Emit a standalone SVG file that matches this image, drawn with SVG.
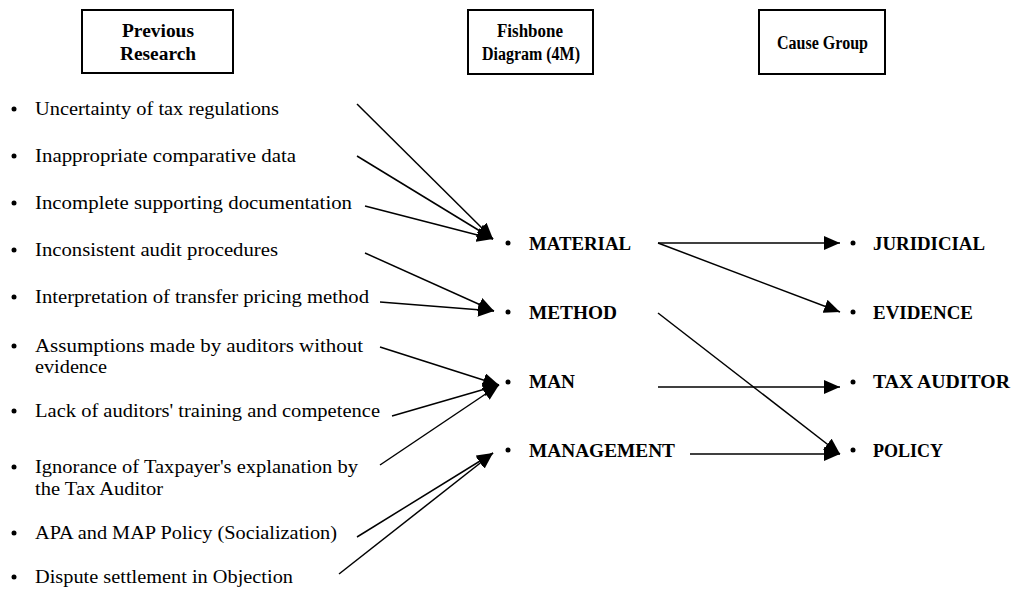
<svg xmlns="http://www.w3.org/2000/svg" width="1011" height="592" viewBox="0 0 1011 592">
<style>
.box{fill:#fff;stroke:#000;stroke-width:2}
.hd{font-family:"Liberation Serif","Times New Roman",serif;font-size:18px;font-weight:bold;fill:#000}
.t{font-family:"Liberation Serif","Times New Roman",serif;font-size:18px;fill:#000}
.b{font-family:"Liberation Serif","Times New Roman",serif;font-size:18px;font-weight:bold;fill:#000}
.c{stroke:#000;stroke-width:1.5;fill:none;marker-end:url(#ah)}
</style>
<defs>
<marker id="ah" markerUnits="userSpaceOnUse" markerWidth="16" markerHeight="14" refX="16" refY="7" orient="auto">
<path d="M0,0 L16,7 L0,14 z" fill="#000"/>
</marker>
</defs>
<rect width="1011" height="592" fill="#fff"/>
<g id="box-previous-research">
<rect class="box" x="82" y="10" width="151" height="63"/>
<text class="hd" x="122" y="37" textLength="72" lengthAdjust="spacingAndGlyphs">Previous</text>
<text class="hd" x="120" y="60" textLength="76" lengthAdjust="spacingAndGlyphs">Research</text>
</g>
<g id="box-fishbone">
<rect class="box" x="468" y="10" width="125" height="64"/>
<text class="hd" x="497" y="37" textLength="66" lengthAdjust="spacingAndGlyphs">Fishbone</text>
<text class="hd" x="482" y="60" textLength="98" lengthAdjust="spacingAndGlyphs">Diagram (4M)</text>
</g>
<g id="box-cause-group">
<rect class="box" x="759" y="10" width="126" height="64"/>
<text class="hd" x="777" y="49" textLength="91" lengthAdjust="spacingAndGlyphs">Cause Group</text>
</g>
<g id="cause-1"><circle cx="14" cy="109" r="2.5"/><text class="t" x="35" y="115" textLength="244" lengthAdjust="spacingAndGlyphs">Uncertainty of tax regulations</text></g>
<g id="cause-2"><circle cx="14" cy="156" r="2.5"/><text class="t" x="35" y="162" textLength="261" lengthAdjust="spacingAndGlyphs">Inappropriate comparative data</text></g>
<g id="cause-3"><circle cx="14" cy="203" r="2.5"/><text class="t" x="35" y="209" textLength="317" lengthAdjust="spacingAndGlyphs">Incomplete supporting documentation</text></g>
<g id="cause-4"><circle cx="14" cy="250" r="2.5"/><text class="t" x="35" y="256" textLength="243" lengthAdjust="spacingAndGlyphs">Inconsistent audit procedures</text></g>
<g id="cause-5"><circle cx="14" cy="297" r="2.5"/><text class="t" x="35" y="303" textLength="334" lengthAdjust="spacingAndGlyphs">Interpretation of transfer pricing method</text></g>
<g id="cause-6"><circle cx="14" cy="346" r="2.5"/><text class="t" x="35" y="352" textLength="328" lengthAdjust="spacingAndGlyphs">Assumptions made by auditors without</text><text class="t" x="35" y="373" textLength="72" lengthAdjust="spacingAndGlyphs">evidence</text></g>
<g id="cause-7"><circle cx="14" cy="411" r="2.5"/><text class="t" x="35" y="417" textLength="345" lengthAdjust="spacingAndGlyphs">Lack of auditors' training and competence</text></g>
<g id="cause-8"><circle cx="14" cy="467" r="2.5"/><text class="t" x="35" y="473" textLength="323" lengthAdjust="spacingAndGlyphs">Ignorance of Taxpayer's explanation by</text><text class="t" x="35" y="495" textLength="128" lengthAdjust="spacingAndGlyphs">the Tax Auditor</text></g>
<g id="cause-9"><circle cx="14" cy="533" r="2.5"/><text class="t" x="35" y="539" textLength="302" lengthAdjust="spacingAndGlyphs">APA and MAP Policy (Socialization)</text></g>
<g id="cause-10"><circle cx="14" cy="577" r="2.5"/><text class="t" x="35" y="583" textLength="258" lengthAdjust="spacingAndGlyphs">Dispute settlement in Objection</text></g>
<g id="m-material"><circle cx="508" cy="243" r="2.5"/><text class="b" x="529" y="250" textLength="102" lengthAdjust="spacingAndGlyphs">MATERIAL</text></g>
<g id="m-method"><circle cx="508" cy="312" r="2.5"/><text class="b" x="529" y="319" textLength="88" lengthAdjust="spacingAndGlyphs">METHOD</text></g>
<g id="m-man"><circle cx="508" cy="382" r="2.5"/><text class="b" x="529" y="388" textLength="46" lengthAdjust="spacingAndGlyphs">MAN</text></g>
<g id="m-management"><circle cx="508" cy="450" r="2.5"/><text class="b" x="529" y="457" textLength="146" lengthAdjust="spacingAndGlyphs">MANAGEMENT</text></g>
<g id="g-juridicial"><circle cx="853" cy="243" r="2.5"/><text class="b" x="873" y="250" textLength="112" lengthAdjust="spacingAndGlyphs">JURIDICIAL</text></g>
<g id="g-evidence"><circle cx="853" cy="312" r="2.5"/><text class="b" x="873" y="319" textLength="100" lengthAdjust="spacingAndGlyphs">EVIDENCE</text></g>
<g id="g-tax-auditor"><circle cx="853" cy="382" r="2.5"/><text class="b" x="873" y="388" textLength="137" lengthAdjust="spacingAndGlyphs">TAX AUDITOR</text></g>
<g id="g-policy"><circle cx="853" cy="450" r="2.5"/><text class="b" x="873" y="457" textLength="70" lengthAdjust="spacingAndGlyphs">POLICY</text></g>
<g id="connectors">
<line class="c" x1="357" y1="104" x2="493" y2="239"/>
<line class="c" x1="357" y1="156" x2="493" y2="239"/>
<line class="c" x1="365" y1="206" x2="493" y2="239"/>
<line class="c" x1="365" y1="253" x2="494" y2="311"/>
<line class="c" x1="380" y1="302" x2="494" y2="311"/>
<line class="c" x1="380" y1="347" x2="499" y2="385"/>
<line class="c" x1="392" y1="416" x2="499" y2="385"/>
<line class="c" x1="380" y1="465" x2="499" y2="385"/>
<line class="c" x1="357" y1="537" x2="493" y2="453"/>
<line class="c" x1="339" y1="574" x2="493" y2="453"/>
<line class="c" x1="658" y1="243" x2="840" y2="243"/>
<line class="c" x1="658" y1="243" x2="840" y2="312"/>
<line class="c" x1="658" y1="313" x2="840" y2="454"/>
<line class="c" x1="658" y1="387" x2="840" y2="387"/>
<line class="c" x1="690" y1="454" x2="840" y2="454"/>
</g>
</svg>
